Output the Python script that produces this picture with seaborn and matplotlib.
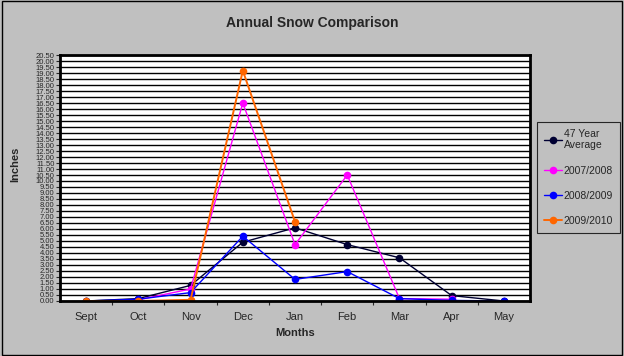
import numpy as np
import pandas as pd
import matplotlib
matplotlib.use("Agg")
import matplotlib.pyplot as plt
import seaborn as sns

#%% data
months = ["Sept", "Oct", "Nov", "Dec", "Jan", "Feb", "Mar", "Apr", "May"]
avg_47yr = [0.0, 0.2, 1.3, 4.9, 6.1, 4.7, 3.6, 0.45, 0.0]
snow_0708 = [np.nan, 0.1, 1.0, 16.5, 4.7, 10.5, 0.2, 0.15, np.nan]
snow_0809 = [0.0, 0.15, 0.7, 5.4, 1.8, 2.45, 0.2, 0.05, 0.0]
snow_0910 = [0.0, 0.0, 0.1, 19.2, 6.6, np.nan, np.nan, np.nan, np.nan]
series_names = ["47 Year\nAverage", "2007/2008", "2008/2009", "2009/2010"]
series_colors = ["#000033", "#FF00FF", "#0000FF", "#FF6600"]
yticks = np.arange(0, 20.51, 0.5)

df = pd.DataFrame({
    "Months": months * 4,
    "Inches": avg_47yr + snow_0708 + snow_0809 + snow_0910,
    "series": np.repeat(series_names, len(months)),
})

#%% plot
sns.set_style("white")
plt.rcParams["font.family"] = ["Liberation Sans", "DejaVu Sans"]

fig = plt.figure(figsize=(6.24, 3.56), dpi=100, facecolor="#C0C0C0")
ax = fig.add_axes([0.0962, 0.1545, 0.7532, 0.691])
ax.set_facecolor("white")

sns.lineplot(data=df, x="Months", y="Inches", hue="series", hue_order=series_names,
             palette=dict(zip(series_names, series_colors)), marker="o",
             markersize=5.5, markeredgewidth=0, linewidth=1.0, sort=False, ax=ax)
# orange line a bit heavier, like the original
for ln in ax.get_lines():
    if ln.get_color() in ("#FF6600", "#ff6600"):
        ln.set_linewidth(1.4)

ax.set_xlim(-0.5, len(months) - 0.5)
ax.set_ylim(0, 20.5)
ax.set_yticks(yticks)
ax.set_yticklabels([f"{v:.2f}" for v in yticks], fontsize=5.5)
ax.yaxis.grid(True, color="black", linewidth=1.0)
ax.set_axisbelow(True)
ax.tick_params(axis="y", direction="out", length=3, width=0.8, pad=1, left=True)

ax.set_xticks(range(len(months)))
ax.set_xticklabels(months, fontsize=8)
ax.set_xticks(np.arange(0.5, len(months) - 0.5, 1), minor=True)
ax.tick_params(axis="x", which="major", length=0, pad=8)
ax.tick_params(axis="x", which="minor", direction="out", length=3, width=0.8, bottom=True)

for sp in ax.spines.values():
    sp.set_color("black")
    sp.set_linewidth(2)

ax.set_xlabel("Months", fontsize=8, fontweight="bold", labelpad=4)
ax.set_ylabel("Inches", fontsize=8, fontweight="bold")
ax.yaxis.set_label_coords(-0.085, 0.557)
fig.text(0.5, 0.935, "Annual Snow Comparison", ha="center", va="center",
         fontsize=10, fontweight="bold")

leg = ax.legend(loc="upper left", bbox_to_anchor=(0.8605, 0.657),
                bbox_transform=fig.transFigure, fontsize=7.5, frameon=True,
                fancybox=False, edgecolor="black", facecolor="#C0C0C0",
                labelspacing=1.45, handlelength=1.8, handletextpad=0.1,
                borderpad=0.65, borderaxespad=0)
leg.get_frame().set_linewidth(0.8)

# outer chart border
fig.patches.append(plt.Rectangle((0.003, 0.004), 0.994, 0.992, transform=fig.transFigure,
                                 fill=False, edgecolor="black", linewidth=1))

fig.savefig("out.png", dpi=100, facecolor=fig.get_facecolor())
